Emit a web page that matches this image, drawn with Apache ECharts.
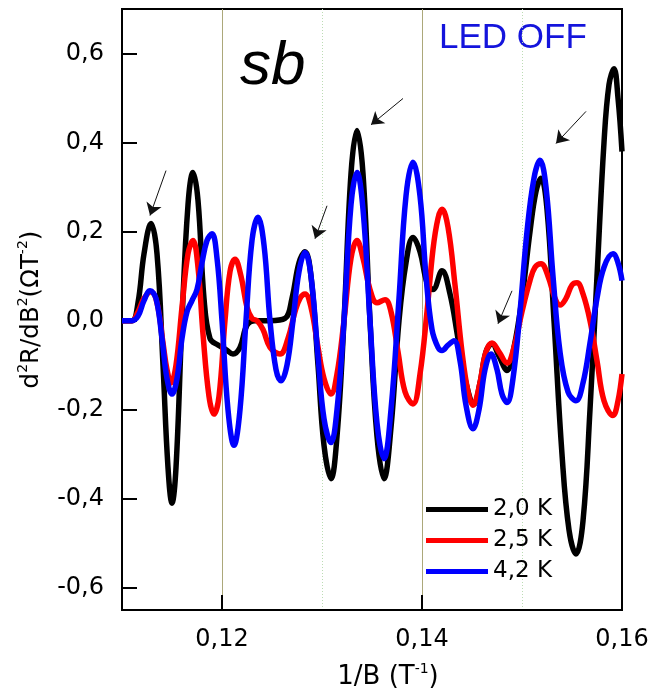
<!DOCTYPE html>
<html>
<head>
<meta charset="utf-8">
<script src="https://cdn.jsdelivr.net/npm/echarts@6/dist/echarts.min.js"></script>
<style>
html,body{margin:0;padding:0;background:#fff;}
#chart{width:650px;height:691px;}
</style>
</head>
<body>
<div id="chart"></div>
<script>
// ---- data ----
const seriesNames = ['2,0 K', '2,5 K', '4,2 K'];
const yTicks = [-0.6, -0.4, -0.2, 0.0, 0.2, 0.4, 0.6];
const xTickLabels = [0.12, 0.14, 0.16];

const blackX = [0.1100,0.1110,0.1116,0.1122,0.1129,0.1135,0.1141,0.1146,0.1150,0.1154,0.1160,0.1166,0.1171,0.1176,0.1182,0.1188,0.1196,0.1204,0.1211,0.1218,0.1225,0.1233,0.1248,0.1263,0.1270,0.1277,0.1283,0.1289,0.1296,0.1302,0.1309,0.1315,0.1322,0.1329,0.1335,0.1341,0.1348,0.1355,0.1362,0.1369,0.1377,0.1384,0.1391,0.1398,0.1405,0.1411,0.1420,0.1428,0.1436,0.1444,0.1452,0.1458,0.1464,0.1470,0.1477,0.1485,0.1492,0.1500,0.1508,0.1514,0.1519,0.1525,0.1532,0.1540,0.1547,0.1554,0.1561,0.1568,0.1575,0.1582,0.1587,0.1592,0.1596,0.1600];
const blackY = [0,0,0.04,0.15,0.218,0.15,-0.1,-0.33,-0.41,-0.33,0.0,0.26,0.333,0.27,0.05,-0.04,-0.055,-0.065,-0.075,-0.06,-0.01,0.0,0.0,0.005,0.05,0.13,0.155,0.1,-0.1,-0.28,-0.355,-0.26,0.0,0.33,0.427,0.33,0.0,-0.26,-0.355,-0.24,0.0,0.13,0.187,0.155,0.085,0.07,0.112,0.06,-0.04,-0.14,-0.187,-0.14,-0.07,-0.052,-0.08,-0.112,-0.06,0.05,0.2,0.29,0.32,0.25,0.0,-0.3,-0.47,-0.524,-0.45,-0.2,0.1,0.4,0.53,0.566,0.5,0.38];

const redX = [0.1100,0.1110,0.1116,0.1122,0.1129,0.1135,0.1141,0.1145,0.1149,0.1154,0.1160,0.1166,0.1171,0.1176,0.1181,0.1187,0.1192,0.1197,0.1203,0.1208,0.1213,0.1219,0.1225,0.1230,0.1235,0.1241,0.1248,0.1258,0.1266,0.1273,0.1278,0.1283,0.1289,0.1296,0.1302,0.1309,0.1315,0.1322,0.1329,0.1335,0.1341,0.1348,0.1355,0.1363,0.1369,0.1376,0.1383,0.1391,0.1398,0.1405,0.1411,0.1416,0.1420,0.1426,0.1433,0.1440,0.1446,0.1451,0.1457,0.1464,0.1470,0.1477,0.1485,0.1492,0.1500,0.1508,0.1513,0.1519,0.1526,0.1533,0.1538,0.1544,0.1550,0.1555,0.1561,0.1568,0.1575,0.1582,0.1591,0.1596,0.1600];
const redY = [0,0,0.02,0.05,0.065,0.04,-0.05,-0.11,-0.14,-0.1,0.03,0.15,0.18,0.12,-0.03,-0.17,-0.21,-0.17,0.0,0.11,0.138,0.1,0.03,0.005,0.0,-0.02,-0.06,-0.075,-0.04,0.02,0.05,0.06,0.03,-0.06,-0.13,-0.165,-0.12,0.0,0.14,0.18,0.14,0.07,0.04,0.047,0.02,-0.07,-0.16,-0.187,-0.12,0.02,0.16,0.23,0.25,0.21,0.08,-0.07,-0.16,-0.19,-0.15,-0.07,-0.05,-0.07,-0.095,-0.06,0.02,0.09,0.12,0.128,0.1,0.05,0.035,0.05,0.08,0.085,0.06,0.0,-0.09,-0.18,-0.213,-0.18,-0.12];

const blueX = [0.1100,0.1110,0.1116,0.1122,0.1128,0.1134,0.1140,0.1145,0.1150,0.1155,0.1160,0.1165,0.1170,0.1175,0.1180,0.1185,0.1190,0.1195,0.1200,0.1206,0.1212,0.1218,0.1224,0.1230,0.1236,0.1242,0.1248,0.1254,0.1259,0.1265,0.1271,0.1277,0.1283,0.1289,0.1296,0.1302,0.1309,0.1315,0.1322,0.1329,0.1335,0.1341,0.1348,0.1355,0.1362,0.1369,0.1377,0.1384,0.1391,0.1398,0.1404,0.1410,0.1416,0.1420,0.1426,0.1432,0.1438,0.1444,0.1451,0.1457,0.1463,0.1469,0.1475,0.1480,0.1485,0.1491,0.1498,0.1505,0.1512,0.1518,0.1524,0.1531,0.1538,0.1546,0.1554,0.1561,0.1568,0.1575,0.1582,0.1591,0.1596,0.1600];
const blueY = [0,0,0.01,0.045,0.067,0.05,-0.04,-0.13,-0.165,-0.13,-0.04,0.02,0.045,0.07,0.13,0.18,0.195,0.14,0.0,-0.2,-0.28,-0.2,0.0,0.18,0.232,0.17,0.0,-0.11,-0.135,-0.1,0.0,0.11,0.153,0.1,-0.08,-0.22,-0.274,-0.2,0.0,0.26,0.333,0.25,0.0,-0.23,-0.31,-0.2,0.05,0.28,0.356,0.28,0.1,-0.02,-0.06,-0.067,-0.055,-0.045,-0.09,-0.19,-0.243,-0.2,-0.11,-0.075,-0.11,-0.165,-0.184,-0.13,0.02,0.2,0.32,0.36,0.3,0.1,-0.07,-0.16,-0.18,-0.14,-0.05,0.05,0.12,0.15,0.13,0.09];

// annotation arrows: [fromX, fromY, toX, toY]
const arrows = [
  [0.1144, 0.337, 0.1128, 0.236],
  [0.1305, 0.258, 0.1293, 0.184],
  [0.1381, 0.499, 0.1349, 0.440],
  [0.1564, 0.470, 0.1534, 0.398],
  [0.1490, 0.067, 0.1476, -0.007]
];

function zip(xs, ys) {
  const n = Math.min(xs.length, ys.length);
  const out = [];
  for (let i = 0; i < n; i++) out.push([xs[i], ys[i]]);
  return out;
}
const comma = v => String(v).replace('.', ',');

const chart = echarts.init(document.getElementById('chart'), null, {renderer: 'canvas'});
const FONT = 'DejaVu Sans';
const supStyle = {fontFamily: FONT, fontSize: 14, verticalAlign: 'top', lineHeight: 15, color: '#000'};

const option = {
  animation: false,
  backgroundColor: '#ffffff',
  grid: {left: 122, right: 28, top: 9, bottom: 81, containLabel: false, outerBoundsMode: 'none',
    show: true, borderColor: '#000', borderWidth: 2, backgroundColor: 'transparent'},
  legend: {
    orient: 'vertical', left: 421, top: 493,
    icon: 'rect', itemWidth: 62, itemHeight: 5, itemGap: 8,
    data: seriesNames,
    textStyle: {fontFamily: FONT, fontSize: 23, color: '#000', lineHeight: 20}
  },
  graphic: [
    {type: 'text', left: 240, top: 36, style: {text: 'sb', font: 'italic 62px "Liberation Sans"', fill: '#000'}},
    {type: 'text', left: 439, top: 21, style: {text: 'LED OFF', font: '35px "Liberation Sans"', fill: '#1414dc'}}
  ],
  xAxis: [
    {
      type: 'value', min: 0.11, max: 0.16, interval: 0.01,
      name: '1/B (T{sup|-1})', nameLocation: 'middle', nameGap: 52,
      nameTextStyle: {fontFamily: FONT, fontSize: 26, color: '#000', padding: [0, 0, 0, 32], lineHeight: 30, rich: {sup: supStyle}},
      axisLine: {show: true, onZero: false, lineStyle: {color: '#000', width: 2}},
      axisTick: {show: true, inside: true, length: 15, lineStyle: {color: '#000', width: 2}, customValues: [0.12, 0.14]},
      axisLabel: {show: true, customValues: xTickLabels, margin: 18, fontFamily: FONT, fontSize: 24, color: '#000', formatter: v => comma(v.toFixed(2))},
      splitLine: {show: false}
    },
    {
      type: 'value', min: 0.11, max: 0.16, interval: 0.01, position: 'bottom',
      axisLine: {show: false, onZero: false}, axisTick: {show: false}, axisLabel: {show: false},
      splitLine: {show: true, showMinLine: true, showMaxLine: false, lineStyle: {color: ['rgba(0,0,0,0)', '#aca87a'], width: 1, type: 'solid'}}
    },
    {
      type: 'value', min: 0.11, max: 0.16, interval: 0.01, position: 'bottom',
      axisLine: {show: false, onZero: false}, axisTick: {show: false}, axisLabel: {show: false},
      splitLine: {show: true, showMinLine: true, showMaxLine: false, lineStyle: {color: ['#bcdcb4', 'rgba(0,0,0,0)'], width: 1, type: [1, 2]}}
    }
  ],
  yAxis: {
    type: 'value', min: -0.65, max: 0.7,
    name: 'd{sup|2}R/dB{sup|2}(ΩT{sup|-2})', nameLocation: 'middle', nameRotate: 90, nameGap: 70,
    nameTextStyle: {fontFamily: FONT, fontSize: 24.5, color: '#000', lineHeight: 30, rich: {sup: supStyle}},
    axisLine: {show: true, onZero: false, lineStyle: {color: '#000', width: 2}},
    axisTick: {show: true, inside: true, length: 15, lineStyle: {color: '#000', width: 2}, customValues: yTicks},
    axisLabel: {show: true, customValues: yTicks, margin: 18, fontFamily: FONT, fontSize: 24, color: '#000', formatter: v => comma(v.toFixed(1))},
    splitLine: {show: false}
  },
  series: [
    {name: seriesNames[0], type: 'line', data: zip(blackX, blackY), smooth: 0.4, showSymbol: false, symbol: 'none',
      lineStyle: {color: '#000000', width: 5.5}, itemStyle: {color: '#000000'}, z: 3},
    {name: seriesNames[1], type: 'line', data: zip(redX, redY), smooth: 0.4, showSymbol: false, symbol: 'none',
      lineStyle: {color: '#ff0000', width: 5.5}, itemStyle: {color: '#ff0000'}, z: 4},
    {name: seriesNames[2], type: 'line', data: zip(blueX, blueY), smooth: 0.4, showSymbol: false, symbol: 'none',
      lineStyle: {color: '#0000ff', width: 5.5}, itemStyle: {color: '#0000ff'}, z: 5,
      markLine: {
        silent: true, animation: false,
        symbol: ['none', 'arrow'], symbolSize: 12,
        label: {show: false},
        itemStyle: {color: '#111'},
        lineStyle: {color: '#111', width: 1, type: 'solid'},
        emphasis: {disabled: true},
        data: arrows.map(a => [{coord: [a[0], a[1]]}, {coord: [a[2], a[3]]}])
      }}
  ]
};
chart.setOption(option);
</script>
</body>
</html>
